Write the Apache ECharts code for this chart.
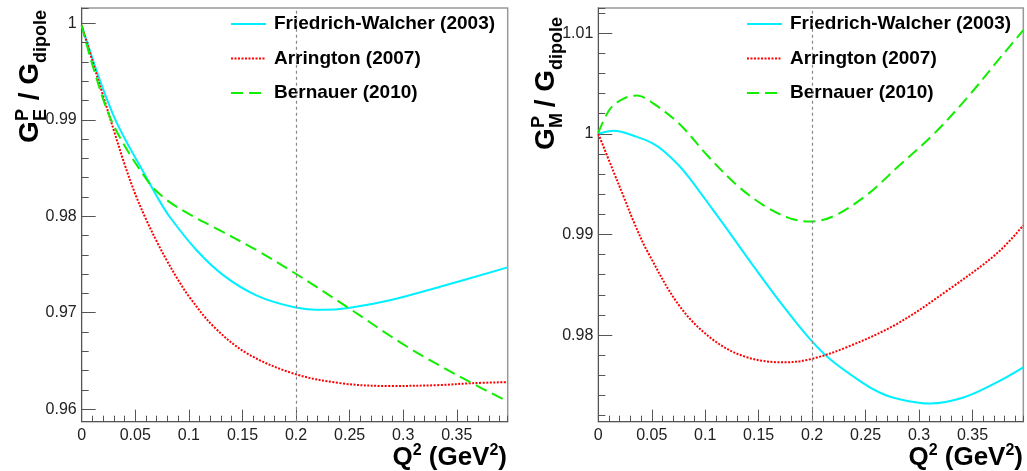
<!DOCTYPE html>
<html>
<head>
<meta charset="utf-8">
<script src="https://cdn.jsdelivr.net/npm/echarts@6/dist/echarts.min.js"></script>
<style>
html, body { margin: 0; padding: 0; background: #fff; }
#chart { width: 1027px; height: 471px; }
</style>
</head>
<body>
<div id="chart"></div>
<script>
// series names (legend)
const seriesNames = ['Friedrich-Walcher (2003)', 'Arrington (2007)', 'Bernauer (2010)'];

// axis ranges
const xRange = [0, 0.3975];
const yRangeE = [0.9587, 1.0016];
const yRangeM = [0.9714, 1.0125];
const xMajorStep = 0.05, xMinorStep = 0.01;
const yMajorStep = 0.01, yMinorStep = 0.002;
const cutLine = 0.2;

// G_E / G_dipole  [Q2, ratio]
const fwE = [[0, 0.9998], [0.0295, 0.9905], [0.062, 0.9837], [0.0715, 0.9818], [0.0824, 0.9799],
  [0.107, 0.9765], [0.132, 0.9739], [0.163, 0.9718], [0.1975, 0.9706], [0.2255, 0.9703],
  [0.249, 0.9705], [0.2877, 0.9713], [0.3344, 0.9727], [0.3975, 0.9747]];
const arrE = [[0, 0.9998], [0.01, 0.9961], [0.02, 0.9925], [0.03, 0.9889], [0.04, 0.9854],
  [0.05, 0.9823], [0.06, 0.9797], [0.07, 0.9774], [0.08, 0.9753], [0.09, 0.9734], [0.1, 0.9717],
  [0.1228, 0.9686], [0.154, 0.9658], [0.1975, 0.9637], [0.241, 0.9627], [0.2877, 0.9624],
  [0.3344, 0.9625], [0.365, 0.9627], [0.3975, 0.9628]];
const berE = [[0, 0.9998], [0.0108, 0.9954], [0.0295, 0.9895], [0.062, 0.9836], [0.0793, 0.9817],
  [0.104, 0.9800], [0.1228, 0.9789], [0.163, 0.9765], [0.1975, 0.9742], [0.249, 0.9705],
  [0.3033, 0.9665], [0.3608, 0.9629], [0.3975, 0.9608]];

// G_M / G_dipole  [Q2, ratio]
const fwM = [[0, 1.0000], [0.0144, 1.0003], [0.036, 0.9997], [0.05, 0.9991], [0.0611, 0.9983],
  [0.075, 0.9969], [0.086, 0.9955], [0.1, 0.9935], [0.1172, 0.9910], [0.1483, 0.9864],
  [0.175, 0.9826], [0.198, 0.9796], [0.2168, 0.9776], [0.248, 0.9752], [0.263, 0.9743],
  [0.279, 0.9737], [0.3103, 0.9732], [0.3415, 0.9738], [0.3726, 0.9753], [0.3975, 0.9768]];
const arrM = [[0, 1.0000], [0.0144, 0.9962], [0.0243, 0.9936], [0.033, 0.9913], [0.0455, 0.9884],
  [0.0766, 0.9828], [0.1078, 0.9795], [0.139, 0.9778], [0.1733, 0.9773], [0.198, 0.9776],
  [0.2324, 0.9788], [0.279, 0.9811], [0.326, 0.9844], [0.3726, 0.9881], [0.3975, 0.9909]];
const berM = [[0, 1.0001], [0.0112, 1.0025], [0.0237, 1.0035], [0.036, 1.0038], [0.0517, 1.0030],
  [0.0766, 1.0009], [0.1016, 0.9979], [0.1296, 0.9949], [0.1546, 0.9929], [0.1794, 0.9916],
  [0.198, 0.9913], [0.2196, 0.9918], [0.2508, 0.9939], [0.282, 0.9969], [0.313, 0.9999],
  [0.3443, 1.0035], [0.3754, 1.0075], [0.3975, 1.0103]];

const FONT = '"Liberation Sans", Arial, Helvetica, sans-serif';
const AXIS_COLOR = '#555';

const lineStyles = [
  { color: '#00f0ff', width: 2, type: 'solid' },
  { color: '#ff0000', width: 2, type: [2, 1.5] },
  { color: '#11ee00', width: 2, type: [12, 6] }
];

function xAxes(grid) {
  const base = {
    type: 'value', gridIndex: grid, position: 'bottom', min: xRange[0], max: xRange[1],
    splitLine: { show: false }
  };
  return [
    Object.assign({}, base, {
      interval: xMajorStep,
      axisLine: { show: true, lineStyle: { color: AXIS_COLOR, width: 1 } },
      axisTick: { show: true, inside: true, length: 12, lineStyle: { color: AXIS_COLOR } },
      axisLabel: { show: true, fontSize: 16, color: '#222', fontFamily: FONT, margin: 6, showMaxLabel: false }
    }),
    Object.assign({}, base, {
      interval: xMinorStep,
      axisLine: { show: false },
      axisTick: { show: true, inside: true, length: 6, lineStyle: { color: AXIS_COLOR } },
      axisLabel: { show: false }
    })
  ];
}

function yAxes(grid, range) {
  const base = {
    type: 'value', gridIndex: grid, position: 'left', min: range[0], max: range[1],
    splitLine: { show: false }
  };
  return [
    Object.assign({}, base, {
      minInterval: yMajorStep, maxInterval: yMajorStep, splitNumber: 4,
      axisLine: { show: true, lineStyle: { color: AXIS_COLOR, width: 1 } },
      axisTick: { show: true, inside: true, length: 14, lineStyle: { color: AXIS_COLOR } },
      axisLabel: { show: true, fontSize: 16, color: '#222', fontFamily: FONT, margin: 5,
        showMinLabel: false, showMaxLabel: false }
    }),
    Object.assign({}, base, {
      minInterval: yMinorStep, maxInterval: yMinorStep, splitNumber: 20,
      axisLine: { show: false },
      axisTick: { show: true, inside: true, length: 7, lineStyle: { color: AXIS_COLOR } },
      axisLabel: { show: false }
    })
  ];
}

function lineSeries(name, data, style, xi, yi, withCut) {
  const s = {
    name: name, type: 'line', data: data, xAxisIndex: xi, yAxisIndex: yi,
    symbol: 'none', showSymbol: false, smooth: 0.35, lineStyle: style,
    itemStyle: { color: style.color }, z: 3
  };
  if (withCut) {
    s.markLine = {
      silent: true, symbol: 'none', label: { show: false },
      lineStyle: { color: '#888', width: 1.2, type: [3, 3] },
      data: [{ xAxis: cutLine }]
    };
  }
  return s;
}

function legend(left) {
  return {
    data: seriesNames, orient: 'vertical', left: left, top: 14, padding: 0,
    itemGap: 14.5, itemWidth: 35, itemHeight: 20, selectedMode: false,
    itemStyle: { color: 'rgba(0,0,0,0)', borderColor: 'rgba(0,0,0,0)', borderWidth: 0 },
    textStyle: { fontSize: 19, fontWeight: 'bold', color: '#000', fontFamily: FONT, lineHeight: 20, padding: [0, 0, 0, 3] }
  };
}

// rotated y title: G^P_sub / G_dipole
function yTitle(bx, by, sub) {
  const big = 'bold 28px ' + FONT, small = 'bold 18px ' + FONT;
  return {
    type: 'group', x: bx, y: by, rotation: Math.PI / 2,
    children: [
      { type: 'text', x: 0, y: -10, style: { text: 'G', font: big, fill: '#000', verticalAlign: 'middle' } },
      { type: 'text', x: 22, y: -17, style: { text: 'P', font: small, fill: '#000', verticalAlign: 'middle' } },
      { type: 'text', x: 22, y: 1, style: { text: sub, font: small, fill: '#000', verticalAlign: 'middle' } },
      { type: 'text', x: 35, y: -10, style: { text: ' / G', font: big, fill: '#000', verticalAlign: 'middle' } },
      { type: 'text', x: 80, y: 1, style: { text: 'dipole', font: small, fill: '#000', verticalAlign: 'middle' } }
    ]
  };
}

function xTitle(right) {
  return {
    type: 'text', x: right, y: 458,
    style: {
      text: '{b|Q}{s|2}{b| (GeV}{s|2}{b|)}', align: 'right', verticalAlign: 'middle', fill: '#000',
      rich: {
        b: { fontSize: 26, fontWeight: 'bold', fontFamily: FONT, fill: '#000', lineHeight: 30 },
        s: { fontSize: 16, fontWeight: 'bold', fontFamily: FONT, fill: '#000', verticalAlign: 'top', lineHeight: 30 }
      }
    }
  };
}

const chart = echarts.init(document.getElementById('chart'), null, { renderer: 'canvas' });

chart.setOption({
  animation: false,
  backgroundColor: '#fff',
  grid: [
    { left: 81.7, top: 8, width: 426, height: 413.7, show: true, borderColor: '#999', borderWidth: 1.5, backgroundColor: 'transparent' },
    { left: 598.3, top: 8, width: 425, height: 413.7, show: true, borderColor: '#999', borderWidth: 1.5, backgroundColor: 'transparent' }
  ],
  xAxis: xAxes(0).concat(xAxes(1)),
  yAxis: yAxes(0, yRangeE).concat(yAxes(1, yRangeM)),
  legend: [legend(230), legend(746)],
  series: [
    lineSeries(seriesNames[0], fwE, lineStyles[0], 0, 0, true),
    lineSeries(seriesNames[1], arrE, lineStyles[1], 0, 0, false),
    lineSeries(seriesNames[2], berE, lineStyles[2], 0, 0, false),
    lineSeries(seriesNames[0], fwM, lineStyles[0], 2, 2, true),
    lineSeries(seriesNames[1], arrM, lineStyles[1], 2, 2, false),
    lineSeries(seriesNames[2], berM, lineStyles[2], 2, 2, false)
  ],
  graphic: [
    yTitle(40, 143, 'E'),
    yTitle(556, 150, 'M'),
    xTitle(507),
    xTitle(1023)
  ]
});
</script>
</body>
</html>
